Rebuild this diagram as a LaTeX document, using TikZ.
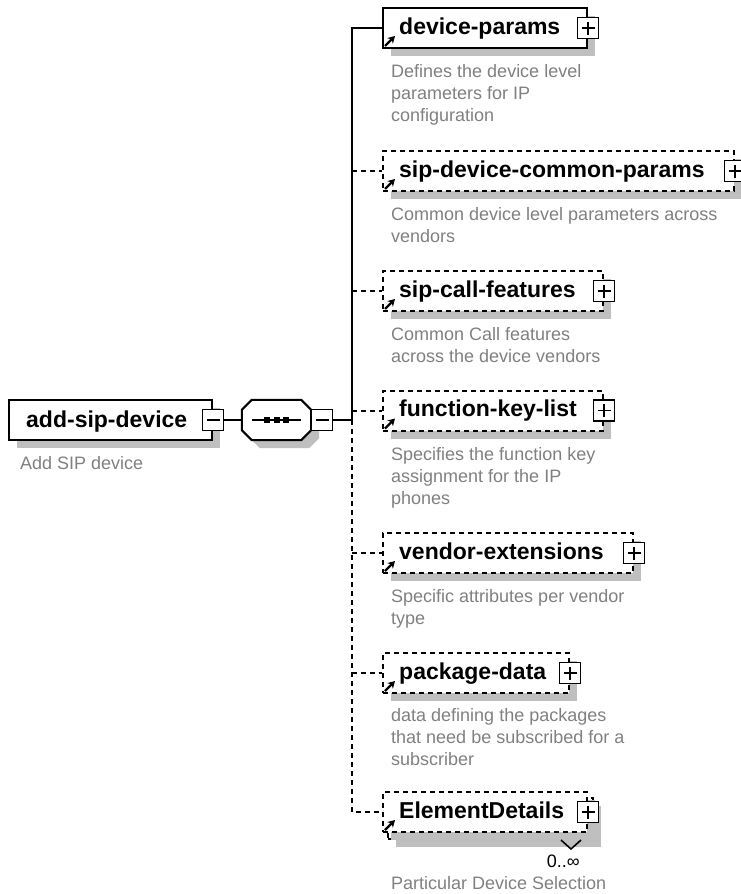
\documentclass[tikz,border=0pt]{standalone}
\usepackage{fontspec}
\setmainfont{Liberation Sans}
\usetikzlibrary{shadows, arrows.meta}

\begin{document}
\begin{tikzpicture}[x=1pt, y=-1pt,
    elem/.style={rectangle, draw=black, line width=2pt, fill=white, minimum height=40pt, inner sep=0pt, drop shadow={shadow xshift=8pt, shadow yshift=-8pt, fill=black!25, opacity=1}},
    optelem/.style={elem, dash pattern=on 5pt off 4pt},
    seqline/.style={draw=black, line width=2pt, fill=white, drop shadow={shadow xshift=8pt, shadow yshift=-8pt, fill=black!25, opacity=1}},
    elname/.style={anchor=base west, inner sep=0pt, font=\fontsize{23}{27}\selectfont\bfseries},
    note/.style={anchor=north west, inner sep=0pt, align=left, text=black!50, font=\fontsize{18}{22}\selectfont},
    pmbox/.style={rectangle, draw=black, line width=1.6pt, fill=white, minimum size=21pt, inner sep=0pt},
    plusbox/.style={pmbox, path picture={
        \draw[line width=1.6pt] ([xshift=4pt]path picture bounding box.west) -- ([xshift=-4pt]path picture bounding box.east);
        \draw[line width=1.6pt] ([yshift=-4pt]path picture bounding box.north) -- ([yshift=4pt]path picture bounding box.south);}},
    minusbox/.style={pmbox, path picture={
        \draw[line width=1.6pt] ([xshift=4pt]path picture bounding box.west) -- ([xshift=-4pt]path picture bounding box.east);}},
    reflink/.style={-{Stealth[length=7pt, width=8pt]}, line width=2.4pt, solid},
    link/.style={line width=2pt},
    optlink/.style={link, dash pattern=on 5pt off 4pt}
]
    \useasboundingbox (0,0) rectangle (740,894);

    \node[elem, minimum width=203pt] (asd) at (110.5,420) {};
    \node[elname] (asdl) at ([shift={(18,7)}]asd.west) {add-sip-device};
    \node[minusbox] (asdm) at (asd.east) {};
    \node[note] (asdn) at (20,456) {Add SIP device};

    \node[rectangle, minimum width=69pt, minimum height=40pt, inner sep=0pt] (seq) at (276.5,420) {};
    \draw[seqline] ([xshift=10pt]seq.north west) -- ([xshift=-10pt]seq.north east) -- ([yshift=-10pt]seq.north east)
        -- ([yshift=10pt]seq.south east) -- ([xshift=-10pt]seq.south east) -- ([xshift=10pt]seq.south west)
        -- ([yshift=10pt]seq.south west) -- ([yshift=-10pt]seq.north west) -- cycle;
    \draw[link] ([xshift=10pt]seq.west) -- ([xshift=-10pt]seq.east);
    \foreach \dx in {-9.5,0,9.5}
        \fill ([xshift=\dx pt]seq.center) +(-3,-3) rectangle +(3,3);
    \node[minusbox] (seqm) at (322,420) {};
    \coordinate (tr) at (352,420);

    \node[elem, minimum width=204pt] (dp) at (485,28) {};
    \node[optelem, minimum width=351pt] (sdcp) at (558.5,171) {};
    \node[optelem, minimum width=220pt] (scf) at (493,291) {};
    \node[optelem, minimum width=220pt] (fkl) at (493,410.5) {};
    \node[optelem, minimum width=250pt] (ve) at (508,553) {};
    \node[optelem, minimum width=186pt] (pd) at (476,673) {};
    \node[optelem, minimum width=205pt, minimum height=41pt] (edb) at (490.5,818.5) {};
    \node[optelem, minimum width=204pt, drop shadow={opacity=0}] (ed) at (485,812) {};
    \draw[line width=1.6pt] ([xshift=-33pt]edb.south east) -- ++(10,9) -- ++(10,-9);

    \node[elname] (dpl) at ([shift={(17,6)}]dp.west) {device-params};
    \node[elname] (sdcpl) at ([shift={(17,6)}]sdcp.west) {sip-device-common-params};
    \node[elname] (scfl) at ([shift={(17,6)}]scf.west) {sip-call-features};
    \node[elname] (fkll) at ([shift={(17,6)}]fkl.west) {function-key-list};
    \node[elname] (vel) at ([shift={(17,6)}]ve.west) {vendor-extensions};
    \node[elname] (pdl) at ([shift={(17,6)}]pd.west) {package-data};
    \node[elname] (edl) at ([shift={(17,6)}]ed.west) {ElementDetails};

    \foreach \c in {dp,sdcp,scf,fkl,ve,pd,ed} {
        \node[plusbox] (\c-plus) at (\c.east) {};
        \draw[reflink] ([shift={(3,-3)}]\c.south west) -- ++(10,-10);
    }

    \node[note] (dpn) at (391,64) {Defines the device level\\parameters for IP\\configuration};
    \node[note] (sdcpn) at (391,207) {Common device level parameters across\\vendors};
    \node[note] (scfn) at (391,327) {Common Call features\\across the device vendors};
    \node[note] (fkln) at (391,447) {Specifies the function key\\assignment for the IP\\phones};
    \node[note] (ven) at (391,589) {Specific attributes per vendor\\type};
    \node[note] (pdn) at (391,708) {data defining the packages\\that need be subscribed for a\\subscriber};
    \node[anchor=base east, inner sep=0pt, font=\fontsize{18}{22}\selectfont] (edc) at (580,867) {0..∞};
    \node[note, anchor=base west] (edn) at (391,889) {Particular Device Selection};

    \draw[link] (asdm.east) -- (seq.west);
    \draw[link] (seqm.east) -- (tr);
    \draw[link] (tr) |- (dp.west);
    \draw[optlink] (tr) |- (ed.west);
    \foreach \c in {sdcp,scf,fkl,ve,pd}
        \draw[optlink] (tr |- \c.west) -- (\c.west);
\end{tikzpicture}
\end{document}
